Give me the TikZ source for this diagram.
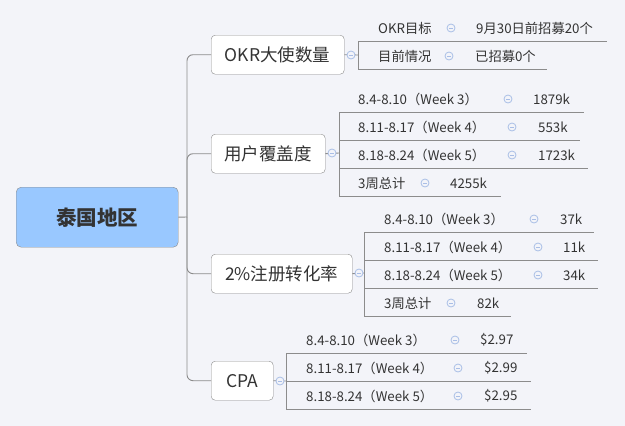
\documentclass[tikz,border=0pt]{standalone}
\usepackage{fontspec}
\setmainfont{Noto Sans CJK SC}
\definecolor{bg}{HTML}{F3F4F9}
\definecolor{ln}{HTML}{8C8C8C}
\definecolor{txt}{HTML}{333333}
\definecolor{rootf}{HTML}{99C8FF}
\definecolor{cir}{HTML}{A9BEE6}
\tikzset{
 child/.style={draw=ln,fill=white,rounded corners=4pt,minimum height=39pt,inner sep=0pt,text=txt,font=\fontsize{17.5}{19}\selectfont,anchor=north west},
 lf/.style={anchor=west,inner sep=0pt,text=txt,font=\fontsize{13.3}{15}\selectfont},
 conn/.style={draw=ln,line width=0.9pt},
 mins/.style={circle,draw=cir,fill=bg,minimum size=8pt,inner sep=0pt,line width=0.8pt},
}
\newcommand\minusat[2]{\node[mins] at (#1,#2) {}; \draw[cir,line width=0.8pt] (#1-2,#2) -- (#1+2,#2);}
% \leafrow{xtext}{yline}{label}{xcircle}{xvalue}{value}{xline}{xend}
\newcommand\leafrow[8]{%
 \node[lf] (l#1#2) at (#1,#2-13) {#3};
 \minusat{#4}{#2-13}
 \node[lf] (v#1#2) at (#5,#2-13) {#6};
 \coordinate (s#1#2) at (#7,#2); \coordinate (e#1#2) at (#8,#2);
 \draw[conn] (s#1#2) -- (e#1#2);}
\begin{document}
\begin{tikzpicture}[x=1pt,y=-1pt]
\fill[bg] (0,0) rectangle (625,426);
\useasboundingbox (0,0) rectangle (625,426);
\node[draw=ln,fill=rootf,rounded corners=5pt,minimum width=162pt,minimum height=60pt,anchor=north west,text=txt,font=\fontsize{20.5}{22}\selectfont\bfseries] (root) at (16,187) {泰国地区};
\node[child,minimum width=133pt] (c1) at (211,35) {OKR大使数量};
\node[child,minimum width=114pt] (c2) at (211,134) {用户覆盖度};
\node[child,minimum width=141pt] (c3) at (211,254) {2\%注册转化率};
\node[child,minimum width=62pt] (c4) at (211,361) {CPA};
\coordinate (tr) at (187,217);
\draw[conn] (root.east) -- (tr);
\foreach \c in {c1,c2,c3,c4}{\draw[conn,rounded corners=6pt] (tr) |- (\c.west);}
% OKR
\leafrow{378}{41}{OKR目标}{451}{476}{9月30日前招募20个}{358}{607}
\leafrow{378}{69}{目前情况}{449}{475}{已招募0个}{358}{547}
\draw[conn] (s37841) -- (s37869);
\draw[conn] (c1.east) -- (358,55);
\minusat{351}{55}
% coverage
\leafrow{358}{112}{8.4-8.10（Week 3）}{508}{533}{1879k}{339}{584}
\leafrow{358}{140}{8.11-8.17（Week 4）}{512}{538}{553k}{339}{580}
\leafrow{358}{168}{8.18-8.24（Week 5）}{512}{538}{1723k}{339}{588}
\leafrow{358}{196}{3周总计}{425}{450}{4255k}{339}{501}
\draw[conn] (s358112) -- (s358196);
\draw[conn] (c2.east) -- (339,153);
\minusat{332}{153}
% conversion
\leafrow{384}{232}{8.4-8.10（Week 3）}{534}{560}{37k}{364}{594}
\leafrow{384}{260}{8.11-8.17（Week 4）}{538}{563}{11k}{364}{598}
\leafrow{384}{288}{8.18-8.24（Week 5）}{538}{563}{34k}{364}{598}
\leafrow{384}{316}{3周总计}{451}{477}{82k}{364}{511}
\draw[conn] (s384232) -- (s384316);
\draw[conn] (c3.east) -- (364,273);
\minusat{359}{273}
% CPA
\leafrow{306}{353}{8.4-8.10（Week 3）}{455}{480}{\$2.97}{286}{527}
\leafrow{306}{381}{8.11-8.17（Week 4）}{458}{484}{\$2.99}{286}{531}
\leafrow{306}{409}{8.18-8.24（Week 5）}{458}{484}{\$2.95}{286}{531}
\draw[conn] (s306353) -- (s306409);
\draw[conn] (c4.east) -- (286,381);
\minusat{280}{381}
\end{tikzpicture}
\end{document}
